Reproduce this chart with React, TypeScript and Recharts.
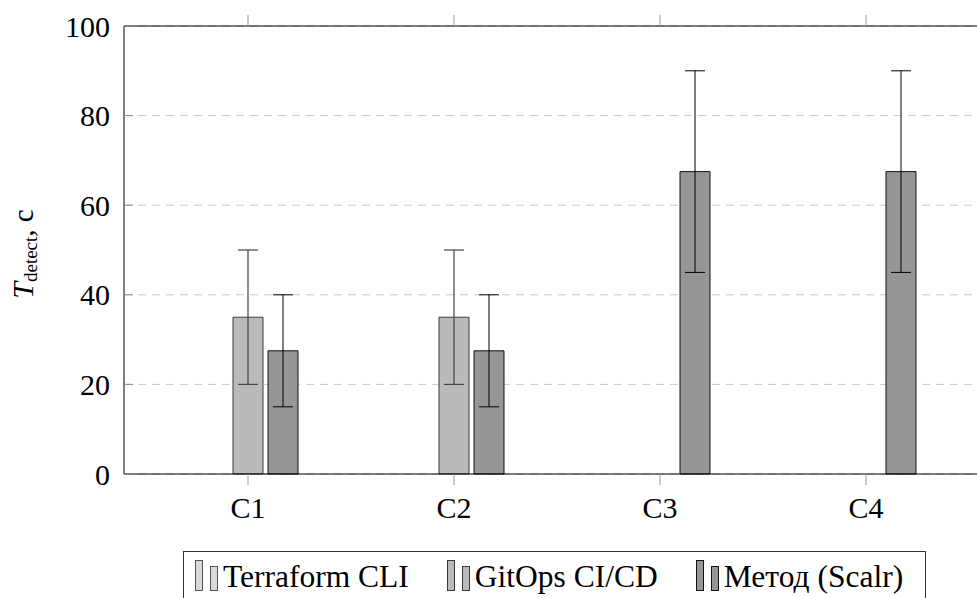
import React from "react";
import {
  BarChart,
  Bar,
  XAxis,
  YAxis,
  CartesianGrid,
  ErrorBar,
  Legend,
} from "recharts";

const categories = ["C1", "C2", "C3", "C4"];
const terraform = [0, 0, 0, 0];
const gitops = [35, 35, null, null];
const gitopsErr = [15, 15, null, null];
const method = [27.5, 27.5, 67.5, 67.5];
const methodErr = [12.5, 12.5, 22.5, 22.5];
const yTicks = [0, 20, 40, 60, 80, 100];

const seriesNames = ["Terraform CLI", "GitOps CI/CD", "Метод (Scalr)"];
const fills = ["#d9d9d9", "#bababa", "#969696"];
const strokes = ["#555555", "#3a3a3a", "#111111"];

const data = categories.map((cat, i) => ({
  cat,
  terraform: terraform[i],
  gitops: gitops[i],
  gitopsErr: gitopsErr[i],
  method: method[i],
  methodErr: methodErr[i],
}));

const FONT = "'Liberation Serif', 'Times New Roman', serif";

function YTick(props: any) {
  const { x, y, payload } = props;
  return (
    <g>
      <line x1={x + 14} x2={x + 23} y1={y} y2={y} stroke="#8c8c8c" />
      <text
        x={x}
        y={y}
        dy="0.355em"
        textAnchor="end"
        fontSize={30}
        fontFamily={FONT}
        fill="#000"
      >
        {payload.value}
      </text>
    </g>
  );
}

function TopTick() {
  return <g />;
}

function YLabel() {
  return (
    <text
      x={33}
      y={254}
      transform="rotate(-90, 33, 254)"
      textAnchor="middle"
      fontFamily={FONT}
      fill="#000"
    >
      <tspan fontSize={30} fontStyle="italic">T</tspan>
      <tspan fontSize={19} dy={4}>detect</tspan>
      <tspan fontSize={29} dy={-4}>, с</tspan>
    </text>
  );
}

function LegendBox() {
  return (
    <div
      style={{
        border: "1px solid #333",
        height: 50,
        boxSizing: "border-box",
        display: "flex",
        alignItems: "flex-end",
        paddingLeft: 11,
        paddingBottom: 9,
        fontFamily: FONT,
        fontSize: 31.5,
        lineHeight: "28px",
        color: "#000",
        whiteSpace: "nowrap",
      }}
    >
      {seriesNames.map((name, i) => (
        <div
          key={name}
          style={{
            display: "flex",
            alignItems: "flex-end",
            marginRight: i < seriesNames.length - 1 ? 38 : 0,
          }}
        >
          <svg width={24} height={31} style={{ marginRight: 4 }}>
            <rect x={0.5} y={0.5} width={7} height={30} fill={fills[i]} stroke={strokes[i]} />
            <rect x={15.5} y={6.5} width={7} height={24} fill={fills[i]} stroke={strokes[i]} />
          </svg>
          <span>{name}</span>
        </div>
      ))}
    </div>
  );
}

export default function App() {
  return (
    <div
      style={{
        position: "fixed",
        left: 0,
        top: 0,
        width: 977,
        height: 598,
        overflow: "hidden",
        background: "#fff",
      }}
    >
      <BarChart
        width={1000}
        height={598}
        data={data}
        margin={{ top: 25, right: 10, bottom: 64, left: 0 }}
        barSize={30}
        barGap={5}
      >
        <CartesianGrid
          horizontal
          vertical={false}
          stroke="#c8c8c8"
          strokeDasharray="8 6"
        />
        <XAxis
          dataKey="cat"
          padding={{ left: 21, right: 21 }}
          height={60}
          tickSize={11}
          tickMargin={12}
          tickLine={{ stroke: "#999" }}
          axisLine={{ stroke: "#000" }}
          tick={{ fontSize: 30, fontFamily: FONT, fill: "#000" }}
        />
        <XAxis
          xAxisId="top"
          orientation="top"
          dataKey="cat"
          padding={{ left: 21, right: 21 }}
          height={1}
          tickSize={11}
          tick={<TopTick />}
          tickLine={{ stroke: "#999" }}
          axisLine={{ stroke: "#000" }}
        />
        <YAxis
          width={124}
          domain={[0, 100]}
          ticks={yTicks}
          interval={0}
          tickSize={0}
          tickMargin={14}
          axisLine={{ stroke: "#000" }}
          tick={<YTick />}
          label={<YLabel />}
        />
        <Legend
          layout="horizontal"
          verticalAlign="middle"
          align="center"
          wrapperStyle={{ left: 183, top: 551, width: 743 }}
          content={() => <LegendBox />}
        />
        <Bar
          dataKey="terraform"
          name={seriesNames[0]}
          fill={fills[0]}
          stroke={strokes[0]}
          isAnimationActive={false}
        />
        <Bar
          dataKey="gitops"
          name={seriesNames[1]}
          fill={fills[1]}
          stroke={strokes[1]}
          isAnimationActive={false}
        >
          <ErrorBar dataKey="gitopsErr" width={10} stroke="#444" strokeWidth={1.2} />
        </Bar>
        <Bar
          dataKey="method"
          name={seriesNames[2]}
          fill={fills[2]}
          stroke={strokes[2]}
          isAnimationActive={false}
        >
          <ErrorBar dataKey="methodErr" width={10} stroke="#000" strokeWidth={1} />
        </Bar>
      </BarChart>
    </div>
  );
}
